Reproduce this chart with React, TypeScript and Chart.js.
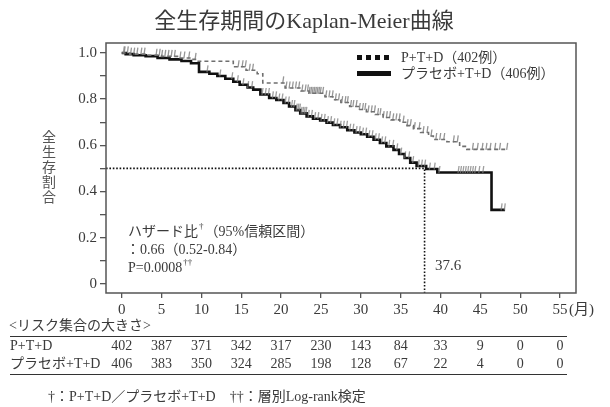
import { useEffect, useRef } from "react";
import { Chart, registerables } from "chart.js";

Chart.register(...registerables);

// ---------- data ----------
const chartTitle = "全生存期間のKaplan-Meier曲線";
const yAxisTitle = "全生存割合";
const legendLabels = ["P+T+D（402例）", "プラセボ+T+D（406例）"];
const xTickValues = [0, 5, 10, 15, 20, 25, 30, 35, 40, 45, 50, 55];
const xUnitLabel = "(月)";
const yTickValues = [0, 0.1, 0.2, 0.3, 0.4, 0.5, 0.6, 0.7, 0.8, 0.9, 1.0];
const yTickLabels = ["0", "", "0.2", "", "0.4", "", "0.6", "", "0.8", "", "1.0"];

// P+T+D (dashed)
const ptdTimes = [0, 1.0, 3.0, 5.0, 7.0, 8.8, 9.6, 14.0, 15.6, 17.0, 17.7, 20.5, 22.5, 23.5, 25.5, 26.5, 27.5, 28.6, 29.7, 30.7, 31.8, 32.8, 33.8, 34.9, 35.8, 36.6, 37.5, 38.5, 39.1, 40.8, 42.4, 43.3, 48.5];
const ptdSurv = [1.0, 0.995, 0.99, 0.985, 0.978, 0.972, 0.964, 0.94, 0.925, 0.91, 0.87, 0.848, 0.835, 0.825, 0.81, 0.797, 0.785, 0.768, 0.755, 0.745, 0.733, 0.72, 0.71, 0.7, 0.685, 0.672, 0.655, 0.64, 0.625, 0.615, 0.595, 0.582, 0.582];
const ptdCensor = [0.3, 0.7, 1.1, 1.5, 1.9, 2.4, 2.8, 4.3, 4.7, 5.0, 5.4, 5.8, 6.2, 6.6, 7.3, 7.8, 8.4, 9.2, 14.6, 15.1, 15.5, 16.0, 16.4, 20.2, 20.6, 21.0, 21.4, 21.8, 22.2, 22.6, 23.0, 23.3, 23.5, 23.7, 23.9, 24.1, 24.3, 24.5, 24.7, 24.9, 25.2, 25.6, 26.0, 26.4, 26.8, 27.2, 27.6, 28.0, 28.3, 28.7, 29.0, 29.4, 29.8, 30.2, 30.5, 30.9, 31.3, 31.7, 32.1, 32.4, 32.8, 33.2, 33.6, 34.0, 34.4, 34.8, 35.3, 35.8, 36.2, 36.7, 37.3, 37.8, 38.3, 38.8, 39.4, 39.9, 40.4, 41.6, 42.1, 44.0, 44.6, 45.2, 45.7, 46.2, 46.8, 47.4, 48.3];

// Placebo+T+D (solid)
const placeboTimes = [0, 0.5, 1.5, 3.0, 4.5, 6.0, 7.5, 8.7, 9.7, 11.0, 12.0, 13.0, 14.0, 14.8, 15.8, 16.5, 17.4, 18.5, 19.4, 20.3, 21.0, 21.8, 22.4, 23.2, 24.0, 24.9, 25.7, 26.5, 27.4, 28.3, 29.2, 30.0, 30.8, 31.6, 32.4, 33.2, 34.1, 34.8, 35.5, 36.2, 37.0, 38.2, 39.6, 46.4, 48.1];
const placeboSurv = [1.0, 0.995, 0.99, 0.986, 0.978, 0.972, 0.965, 0.955, 0.918, 0.91, 0.9, 0.888, 0.875, 0.862, 0.85, 0.841, 0.82, 0.805, 0.796, 0.783, 0.768, 0.752, 0.738, 0.725, 0.715, 0.708, 0.698, 0.688, 0.678, 0.665, 0.655, 0.648, 0.637, 0.624, 0.61, 0.595, 0.58, 0.562, 0.545, 0.525, 0.51, 0.497, 0.482, 0.32, 0.32];
const placeboCensor = [0.2, 10.7, 12.3, 13.8, 14.5, 15.2, 15.8, 16.3, 17.6, 18.0, 18.4, 18.9, 19.3, 19.7, 20.1, 20.5, 20.9, 21.3, 21.6, 21.9, 22.1, 22.3, 22.5, 22.7, 22.9, 23.1, 23.4, 23.8, 24.2, 24.6, 25.0, 25.4, 25.8, 26.2, 26.6, 27.0, 27.4, 27.8, 28.2, 28.6, 29.0, 29.4, 29.8, 30.2, 30.6, 31.0, 31.4, 31.8, 32.2, 32.6, 33.0, 33.5, 34.0, 34.5, 35.0, 35.5, 36.0, 36.5, 37.2, 37.6, 38.0, 38.6, 39.2, 39.8, 42.2, 42.5, 42.8, 43.1, 43.4, 43.7, 44.0, 44.3, 44.8, 45.3, 47.6, 48.0];

const medianLabel = "37.6";
const medianLineX = 38.0;
const medianLevel = 0.5;

const hazardLines = ["ハザード比", "（95%信頼区間）", "：0.66（0.52-0.84）", "P=0.0008"];

const riskTitle = "<リスク集合の大きさ>";
const riskGroups = ["P+T+D", "プラセボ+T+D"];
const riskPTD = [402, 387, 371, 342, 317, 230, 143, 84, 33, 9, 0, 0];
const riskPlacebo = [406, 383, 350, 324, 285, 198, 128, 67, 22, 4, 0, 0];

const footnote = "†：P+T+D／プラセボ+T+D　††：層別Log-rank検定";

// ---------- styling ----------
const SERIF = '"Liberation Serif", "Noto Sans CJK JP", serif';
const TEXT = "#3a3a3a";
const AXIS = "#555";

function survAt(times: number[], surv: number[], t: number) {
  let v = surv[0];
  for (let i = 0; i < times.length; i++) if (times[i] <= t) v = surv[i];
  return v;
}

const decorPlugin = {
  id: "decor",
  beforeDatasetsDraw(chart: any) {
    const { ctx, chartArea: a, scales } = chart;
    const x = scales.x, y = scales.y;
    ctx.save();
    ctx.strokeStyle = "#111";
    ctx.lineWidth = 1.6;
    ctx.setLineDash([1.6, 1.8]);
    const py = y.getPixelForValue(medianLevel);
    const px = x.getPixelForValue(medianLineX);
    ctx.beginPath();
    ctx.moveTo(a.left, py);
    ctx.lineTo(px, py);
    ctx.lineTo(px, a.bottom);
    ctx.stroke();
    ctx.restore();
  },
  afterDatasetsDraw(chart: any) {
    const { ctx, scales } = chart;
    const x = scales.x, y = scales.y;
    ctx.save();
    const drawMarks = (times: number[], surv: number[], cens: number[], color: string) => {
      ctx.strokeStyle = color;
      ctx.lineWidth = 1.3;
      for (const t of cens) {
        const px = x.getPixelForValue(t);
        const py = y.getPixelForValue(survAt(times, surv, t));
        ctx.beginPath();
        ctx.moveTo(px, py + 0.5);
        ctx.lineTo(px + 1, py - 6.5);
        ctx.stroke();
      }
    };
    drawMarks(ptdTimes, ptdSurv, ptdCensor, "rgba(115,115,115,0.75)");
    drawMarks(placeboTimes, placeboSurv, placeboCensor, "rgba(125,125,125,0.75)");
    ctx.restore();
  },
  afterDraw(chart: any) {
    const { ctx, chartArea: a, scales } = chart;
    const x = scales.x;
    ctx.save();
    // frame
    ctx.strokeStyle = AXIS;
    ctx.lineWidth = 1.5;
    ctx.strokeRect(a.left, a.top, a.right - a.left, a.bottom - a.top);

    // title
    ctx.fillStyle = TEXT;
    ctx.textAlign = "center";
    ctx.textBaseline = "middle";
    ctx.font = `22px ${SERIF}`;
    ctx.fillText(chartTitle, 304, 22);

    // y axis title (vertical)
    ctx.font = `14px ${SERIF}`;
    ctx.fillStyle = "#555";
    const chars = Array.from(yAxisTitle);
    chars.forEach((c, i) => ctx.fillText(c, 49, 138 + i * 15));

    // x unit
    ctx.fillStyle = TEXT;
    ctx.textAlign = "left";
    ctx.font = `15px ${SERIF}`;
    ctx.fillText(xUnitLabel, x.getPixelForValue(55) + 9, 310);

    // legend
    const lx = 357;
    ctx.fillStyle = "#111";
    for (let i = 0; i < 4; i++) ctx.fillRect(lx + i * 9, 55, 5, 5);
    ctx.fillRect(lx, 71, 34, 5);
    ctx.fillStyle = TEXT;
    ctx.font = `14px ${SERIF}`;
    ctx.fillText(legendLabels[0], 401, 58);
    ctx.fillText(legendLabels[1], 401, 74);

    // hazard text
    const hx = 128;
    ctx.font = `14px ${SERIF}`;
    ctx.fillText(hazardLines[0], hx, 232);
    const w = ctx.measureText(hazardLines[0]).width;
    ctx.font = `9px ${SERIF}`;
    ctx.fillText("†", hx + w + 1, 227);
    const w2 = ctx.measureText("†").width;
    ctx.font = `14px ${SERIF}`;
    ctx.fillText(hazardLines[1], hx + w + w2 + 2, 232);
    ctx.fillText(hazardLines[2], hx - 2, 250);
    ctx.fillText(hazardLines[3], hx, 268);
    const w3 = ctx.measureText(hazardLines[3]).width;
    ctx.font = `9px ${SERIF}`;
    ctx.fillText("††", hx + w3 + 1, 263);

    // median label
    ctx.font = `15px ${SERIF}`;
    ctx.fillText(medianLabel, 435, 266);

    // risk table
    ctx.font = `14px ${SERIF}`;
    ctx.fillText(riskTitle, 9, 326);
    ctx.strokeStyle = "#333";
    ctx.lineWidth = 1.2;
    ctx.beginPath();
    ctx.moveTo(10, 336.5);
    ctx.lineTo(567, 336.5);
    ctx.moveTo(10, 374.5);
    ctx.lineTo(567, 374.5);
    ctx.stroke();
    ctx.fillText(riskGroups[0], 10, 346);
    ctx.fillText(riskGroups[1], 10, 364);
    ctx.textAlign = "center";
    xTickValues.forEach((v, i) => {
      const px = x.getPixelForValue(v);
      ctx.fillText(String(riskPTD[i]), px, 346);
      ctx.fillText(String(riskPlacebo[i]), px, 364);
    });

    // footnote
    ctx.textAlign = "left";
    ctx.font = `14px ${SERIF}`;
    ctx.fillText(footnote, 48, 397);
    ctx.restore();
  },
};

export default function App() {
  const ref = useRef<HTMLCanvasElement | null>(null);
  useEffect(() => {
    document.body.style.margin = "0";
    const canvas = ref.current;
    if (!canvas) return;
    const chart = new Chart(canvas, {
      type: "line",
      data: {
        datasets: [
          {
            label: legendLabels[0],
            data: ptdTimes.map((t, i) => ({ x: t, y: ptdSurv[i] })),
            borderColor: "#6f6f6f",
            borderWidth: 1.6,
            borderDash: [4, 3],
            stepped: true,
            pointRadius: 0,
            fill: false,
          },
          {
            label: legendLabels[1],
            data: placeboTimes.map((t, i) => ({ x: t, y: placeboSurv[i] })),
            borderColor: "#111",
            borderWidth: 2.6,
            stepped: true,
            pointRadius: 0,
            fill: false,
          },
        ],
      },
      options: {
        animation: false,
        responsive: false,
        maintainAspectRatio: false,
        devicePixelRatio: 1,
        layout: { padding: { left: 0, top: 43, right: 34, bottom: 84 } },
        plugins: { legend: { display: false }, tooltip: { enabled: false }, title: { display: false } },
        scales: {
          x: {
            type: "linear",
            min: -1.97,
            max: 57,
            afterBuildTicks: (s: any) => {
              s.ticks = xTickValues.map((v) => ({ value: v }));
            },
            afterFit: (s: any) => {
              s.height = 30;
            },
            border: { display: false },
            grid: { display: true, drawOnChartArea: false, drawTicks: true, tickLength: 5, color: AXIS, lineWidth: 1.3 },
            ticks: {
              color: TEXT,
              font: { family: SERIF, size: 15 },
              padding: 3,
              maxRotation: 0,
              autoSkip: false,
              callback: (v: any) => String(v),
            },
          },
          y: {
            type: "linear",
            min: -0.04,
            max: 1.043,
            afterBuildTicks: (s: any) => {
              s.ticks = yTickValues.map((v) => ({ value: v }));
            },
            afterFit: (s: any) => {
              s.width = 106;
            },
            border: { display: false },
            grid: { display: true, drawOnChartArea: false, drawTicks: true, tickLength: 6, color: AXIS, lineWidth: 1.3 },
            ticks: {
              color: TEXT,
              font: { family: SERIF, size: 15 },
              padding: 3,
              autoSkip: false,
              callback: (_v: any, i: number) => yTickLabels[i],
            },
          },
        },
      },
      plugins: [decorPlugin],
    });
    return () => chart.destroy();
  }, []);
  return (
    <div style={{ width: 610, height: 407, position: "relative" }}>
      <canvas ref={ref} width={610} height={407} style={{ display: "block" }} />
    </div>
  );
}
